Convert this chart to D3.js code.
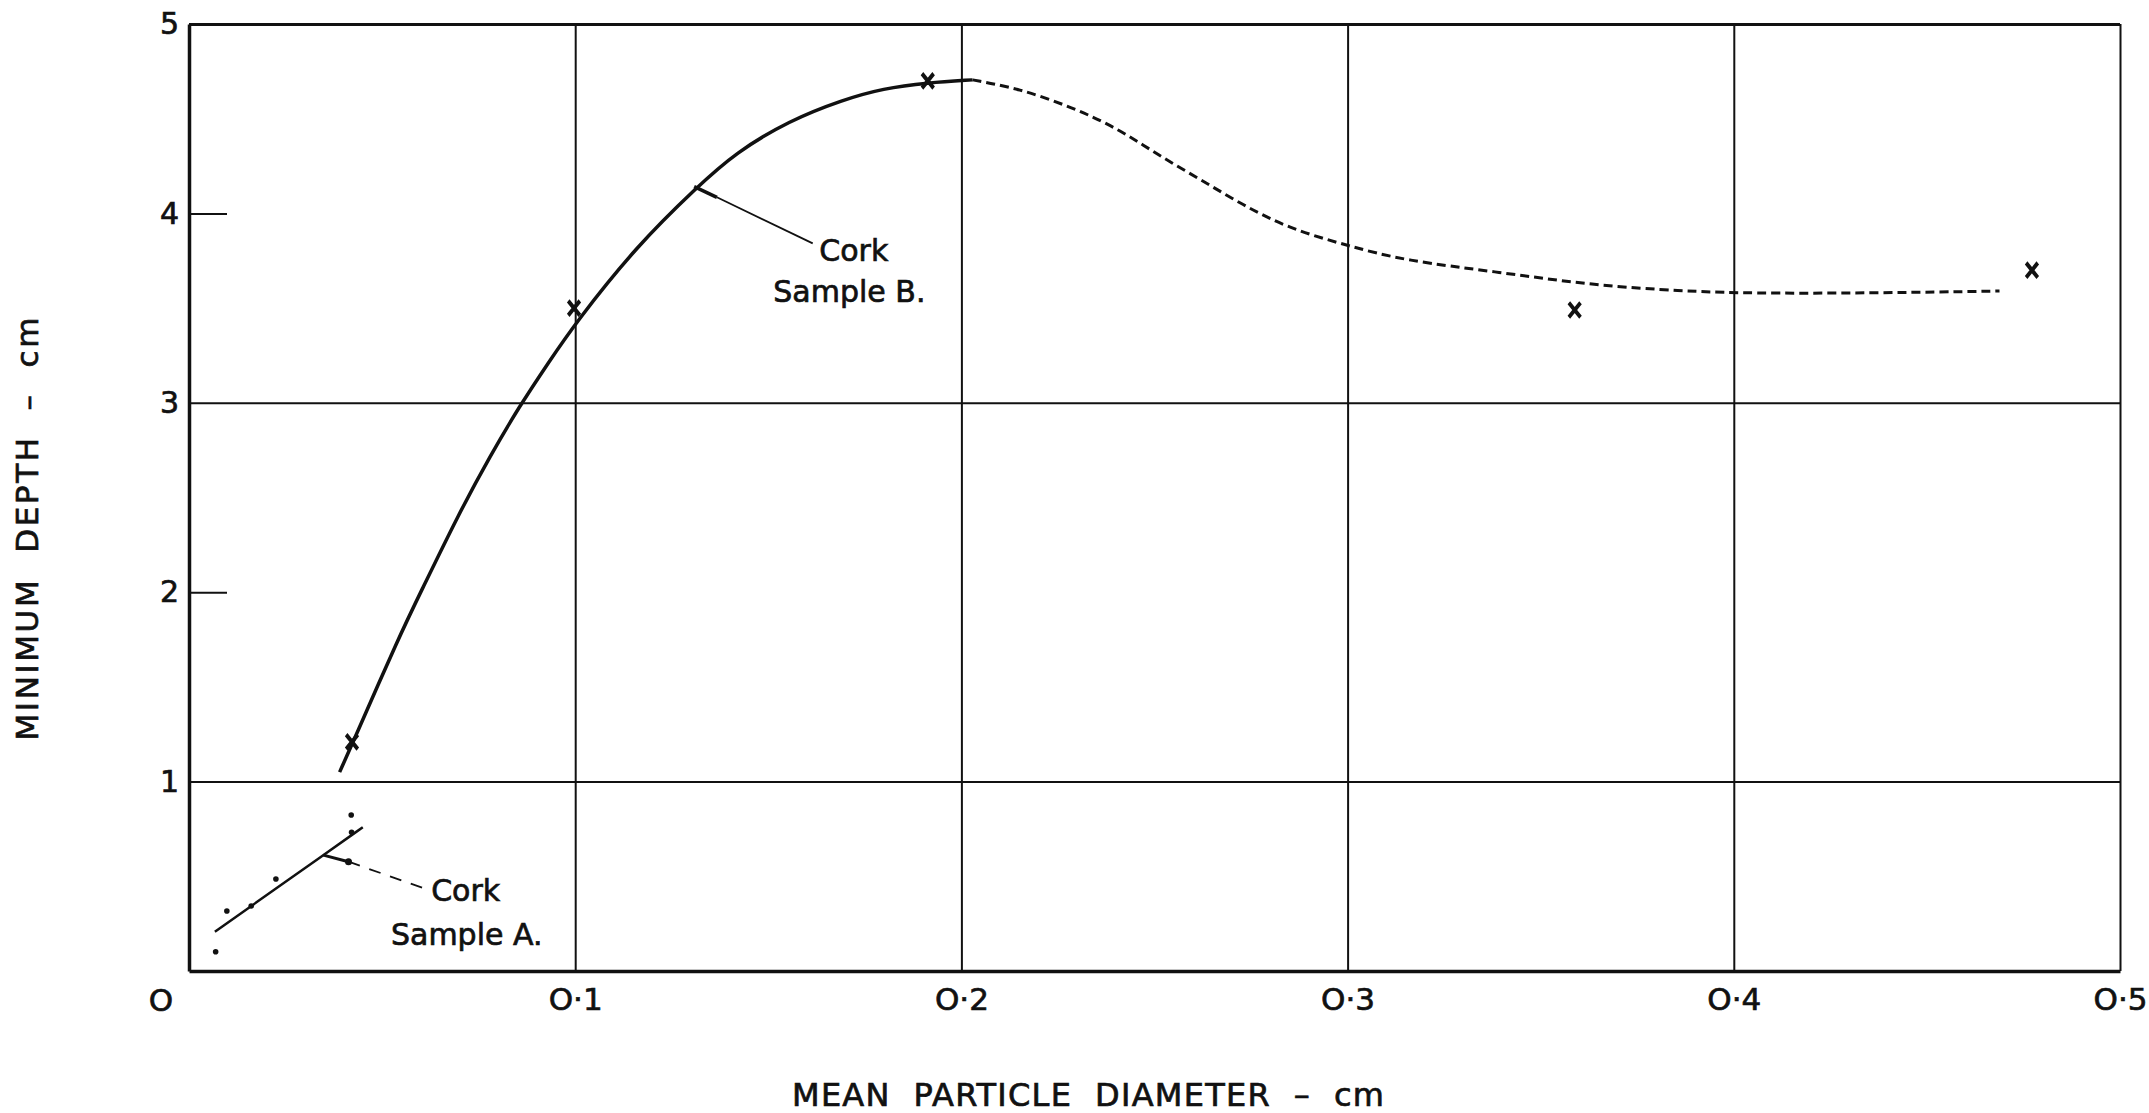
<!DOCTYPE html>
<head>
    <meta charset="utf-8">
    <script src="https://d3js.org/d3.v7.min.js"></script>
    <style>
        body { margin: 0; background: #fff; }
        text { font-family: "DejaVu Sans", sans-serif; fill: #111; stroke: #111; stroke-width: 0.7px; }
    </style>
</head>

<body>
    <div id="chart"></div>
</body>

<script>

    // tick values and their labels
    const xTicks = [0.1, 0.2, 0.3, 0.4, 0.5];
    const xTickLabels = ["O\u00B71", "O\u00B72", "O\u00B73", "O\u00B74", "O\u00B75"];
    const yTicks = [1, 2, 3, 4, 5];
    const yTickLabels = ["1", "2", "3", "4", "5"];
    const yGridValues = [1, 3, 5];
    const yShortTicks = [2, 4];

    // Cork sample B: fitted curve (solid part, then dashed part) and measured points
    const sampleBSolid = [
        [0.039, 1.05], [0.0425, 1.21], [0.0545, 1.77], [0.060, 2.0], [0.070, 2.42],
        [0.078, 2.72], [0.0855, 2.98], [0.093, 3.21], [0.100, 3.42], [0.116, 3.83],
        [0.1316, 4.14], [0.1415, 4.32], [0.1554, 4.49], [0.1693, 4.60], [0.1797, 4.66],
        [0.1913, 4.69], [0.2029, 4.705]
    ];
    const sampleBDashed = [
        [0.2029, 4.705], [0.2148, 4.66], [0.2288, 4.56], [0.2408, 4.445], [0.2508, 4.31],
        [0.2618, 4.18], [0.2728, 4.045], [0.2848, 3.92], [0.300, 3.83], [0.3148, 3.75],
        [0.3393, 3.69], [0.3633, 3.62], [0.3873, 3.59], [0.400, 3.58], [0.4233, 3.578],
        [0.4472, 3.583], [0.4688, 3.59]
    ];
    const sampleBPoints = [
        [0.0422, 1.21], [0.0997, 3.50], [0.1913, 4.70], [0.3588, 3.49], [0.4772, 3.70]
    ];

    // Cork sample A: straight line and its small dots
    const sampleALine = [[0.0067, 0.207], [0.0161, 0.343], [0.0348, 0.612], [0.045, 0.759]];
    const sampleAPoints = [
        [0.0069, 0.102], [0.0098, 0.317], [0.0161, 0.343], [0.0225, 0.486], [0.0421, 0.732], [0.042, 0.824]
    ];

    // callouts: [line start, knee, end], text anchor
    const calloutA = [[0.0348, 0.612], [0.0413, 0.577], [0.0616, 0.431]];
    const calloutB = [[0.1308, 4.141], [0.1367, 4.085], [0.1615, 3.842]];
    const labelA = [["Cork", 0.0627, 0.372], ["Sample A.", 0.0523, 0.137]];
    const labelB = [["Cork", 0.1632, 3.75], ["Sample B.", 0.1513, 3.53]];

    const W = 2149, H = 1113;
    const plotLeft = 189, plotRight = 2120, plotTop = 24, plotBottom = 971;

    const svg = d3.select("#chart")
        .append("svg")
            .attr("width", W)
            .attr("height", H);

    const x = d3.scaleLinear().domain([0, 0.5]).range([plotLeft, plotRight]);
    const y = d3.scaleLinear().domain([0, 5]).range([plotBottom, plotTop]);

    // vertical grid lines (0.1 .. 0.5)
    svg.append("g")
        .attr("transform", `translate(0, ${plotBottom})`)
        .call(d3.axisBottom(x).tickValues(xTicks).tickSize(-(plotBottom - plotTop)).tickFormat(""))
        .call(g => g.select(".domain").remove())
        .call(g => g.selectAll("line").attr("stroke", "#111").attr("stroke-width", 2));

    // horizontal grid lines (1, 3, 5)
    svg.append("g")
        .attr("transform", `translate(${plotLeft}, 0)`)
        .call(d3.axisLeft(y).tickValues(yGridValues).tickSize(-(plotRight - plotLeft)).tickFormat(""))
        .call(g => g.select(".domain").remove())
        .call(g => g.selectAll("line").attr("stroke", "#111").attr("stroke-width", d => d === 5 ? 2.8 : 2));

    // short inner ticks (2, 4)
    svg.append("g")
        .attr("transform", `translate(${plotLeft}, 0)`)
        .call(d3.axisLeft(y).tickValues(yShortTicks).tickSize(-38).tickFormat(""))
        .call(g => g.select(".domain").remove())
        .call(g => g.selectAll("line").attr("stroke", "#111").attr("stroke-width", 2));

    // x axis with labels
    svg.append("g")
        .attr("transform", `translate(0, ${plotBottom})`)
        .call(d3.axisBottom(x).tickValues(xTicks).tickSize(0).tickPadding(17)
            .tickFormat((d, i) => xTickLabels[i]))
        .call(g => g.select(".domain").attr("stroke", "#111").attr("stroke-width", 3.5))
        .call(g => g.selectAll("text").attr("font-size", 31).attr("font-family", "DejaVu Sans").attr("fill", "#111"));

    // y axis with labels
    svg.append("g")
        .attr("transform", `translate(${plotLeft}, 0)`)
        .call(d3.axisLeft(y).tickValues(yTicks).tickSize(0).tickPadding(10)
            .tickFormat((d, i) => yTickLabels[i]))
        .call(g => g.select(".domain").attr("stroke", "#111").attr("stroke-width", 3.5))
        .call(g => g.selectAll("text").attr("font-size", 30).attr("font-family", "DejaVu Sans").attr("fill", "#111"));

    // origin label
    svg.append("text")
        .attr("x", x(0) - 28)
        .attr("y", y(0) + 29)
        .attr("dy", "0.35em")
        .attr("text-anchor", "middle")
        .attr("font-size", 31)
        .text("O");

    const line = d3.line()
        .x(d => x(d[0]))
        .y(d => y(d[1]))
        .curve(d3.curveBasis);

    // sample B curve
    svg.append("path")
        .datum(sampleBSolid)
        .attr("fill", "none")
        .attr("stroke", "#111")
        .attr("stroke-width", 3.5)
        .attr("d", line);

    svg.append("path")
        .datum(sampleBDashed)
        .attr("fill", "none")
        .attr("stroke", "#111")
        .attr("stroke-width", 3)
        .attr("stroke-dasharray", "9,5")
        .attr("d", line);

    // sample B crosses
    svg.selectAll(".crossB")
        .data(sampleBPoints)
        .join("path")
            .attr("class", "crossB")
            .attr("transform", d => `translate(${x(d[0])},${y(d[1])}) scale(0.8,1)`)
            .attr("d", d3.symbol(d3.symbolX, 140))
            .attr("fill", "none")
            .attr("stroke", "#111")
            .attr("stroke-width", 4.5);

    // sample A line and dots
    svg.append("path")
        .datum(sampleALine)
        .attr("fill", "none")
        .attr("stroke", "#111")
        .attr("stroke-width", 2.5)
        .attr("d", line);

    svg.selectAll(".dotA")
        .data(sampleAPoints)
        .join("circle")
            .attr("class", "dotA")
            .attr("cx", d => x(d[0]))
            .attr("cy", d => y(d[1]))
            .attr("r", 2.8)
            .attr("fill", "#111");

    // callout A: thick stub, dot, dashed leader
    svg.append("line")
        .attr("x1", x(calloutA[0][0])).attr("y1", y(calloutA[0][1]))
        .attr("x2", x(calloutA[1][0])).attr("y2", y(calloutA[1][1]))
        .attr("stroke", "#111").attr("stroke-width", 3);
    svg.append("circle")
        .attr("cx", x(calloutA[1][0])).attr("cy", y(calloutA[1][1]))
        .attr("r", 3.5).attr("fill", "#111");
    svg.append("line")
        .attr("x1", x(calloutA[1][0])).attr("y1", y(calloutA[1][1]))
        .attr("x2", x(calloutA[2][0])).attr("y2", y(calloutA[2][1]))
        .attr("stroke", "#111").attr("stroke-width", 1.8)
        .attr("stroke-dasharray", "12,10");

    // callout B: thick stub then thin leader
    svg.append("line")
        .attr("x1", x(calloutB[0][0])).attr("y1", y(calloutB[0][1]))
        .attr("x2", x(calloutB[1][0])).attr("y2", y(calloutB[1][1]))
        .attr("stroke", "#111").attr("stroke-width", 3.5);
    svg.append("line")
        .attr("x1", x(calloutB[1][0])).attr("y1", y(calloutB[1][1]))
        .attr("x2", x(calloutB[2][0])).attr("y2", y(calloutB[2][1]))
        .attr("stroke", "#111").attr("stroke-width", 1.8);

    svg.selectAll(".labelAB")
        .data(labelA.concat(labelB))
        .join("text")
            .attr("class", "labelAB")
            .attr("x", d => x(d[1]))
            .attr("y", d => y(d[2]))
            .attr("font-size", 30)
            .text(d => d[0]);

    // axis titles
    svg.append("text")
        .attr("x", 1088)
        .attr("y", 1106)
        .attr("text-anchor", "middle")
        .attr("font-size", 32)
        .attr("textLength", 592)
        .attr("lengthAdjust", "spacing")
        .style("white-space", "pre")
        .text("MEAN  PARTICLE  DIAMETER  \u2013  cm");

    svg.append("text")
        .attr("transform", "translate(38, 529) rotate(-90)")
        .attr("text-anchor", "middle")
        .attr("font-size", 31)
        .attr("textLength", 423)
        .attr("lengthAdjust", "spacing")
        .style("white-space", "pre")
        .text("MINIMUM  DEPTH  \u2013  cm");

</script>
</html>
